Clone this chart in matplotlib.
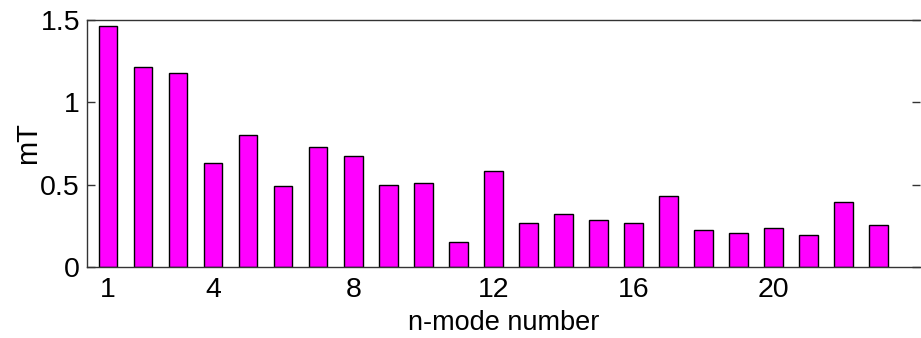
import matplotlib.pyplot as plt

# amplitude of each n-mode
modes = list(range(1, 24))
amplitude = [1.46, 1.214, 1.178, 0.628, 0.802, 0.489, 0.725, 0.671, 0.495, 0.507,
             0.152, 0.584, 0.267, 0.319, 0.283, 0.267, 0.428, 0.224, 0.206, 0.234,
             0.194, 0.394, 0.253]
xticks = [1, 4, 8, 12, 16, 20]
yticks = [0, 0.5, 1, 1.5]
ytick_labels = ['0', '0.5', '1', '1.5']

plt.rcParams['font.family'] = ['Liberation Sans', 'DejaVu Sans']

fig = plt.figure(figsize=(9.21, 3.38), dpi=100)
ax = fig.add_axes([0.0945, 0.21, 0.904, 0.732])

ax.bar(modes, amplitude, width=0.53, color='#ff00ff', edgecolor='black', linewidth=1.0)

ax.set_xlim(0.4, 24.17)
ax.set_ylim(0, 1.5)
ax.set_xticks(xticks)
ax.set_yticks(yticks)
ax.set_yticklabels(ytick_labels)

ax.spines['right'].set_visible(False)
for s in ['left', 'top', 'bottom']:
    ax.spines[s].set_color('#333333')
    ax.spines[s].set_linewidth(1.0)

ax.tick_params(axis='both', direction='in', length=6, width=1, colors='#333333',
               labelcolor='black', labelsize=20.5)
ax.tick_params(axis='y', right=True, pad=5)
ax.tick_params(axis='x', pad=7, bottom=False)

ax.set_xlabel('n-mode number', fontsize=19.5, labelpad=5)
ax.set_ylabel('mT', fontsize=21, labelpad=-1)

fig.savefig('out.png', dpi=100)
